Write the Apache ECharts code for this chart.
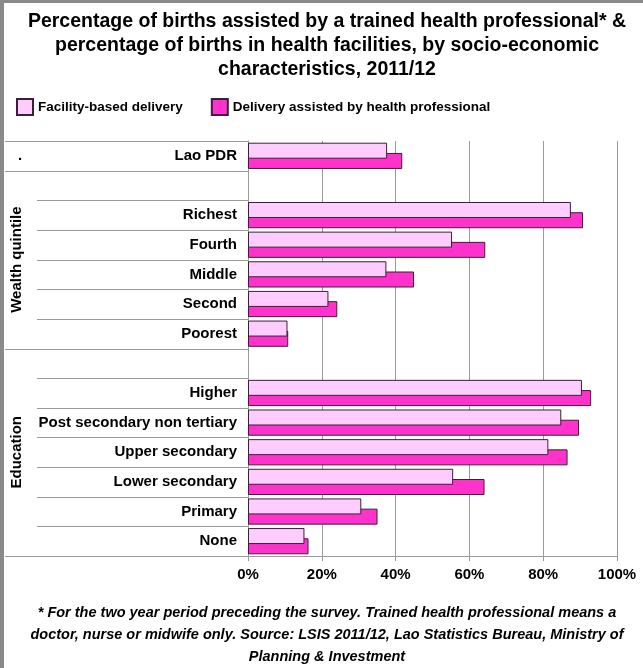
<!DOCTYPE html>
<html>
<head>
<meta charset="utf-8">
<script src="https://cdn.jsdelivr.net/npm/echarts@6/dist/echarts.min.js"></script>
<style>
  html, body { margin: 0; padding: 0; background: #fff; }
  #chart { width: 643px; height: 668px; }
</style>
</head>
<body>
<div id="chart"></div>
<script>
// 类别（空字符串为分组之间的空行）
const categories = ['Lao PDR', ' ', 'Richest', 'Fourth', 'Middle', 'Second', 'Poorest',
  '  ', 'Higher', 'Post secondary non tertiary', 'Upper secondary', 'Lower secondary', 'Primary', 'None']
const facilityData = [37.7, null, 87.5, 55.3, 37.5, 21.8, 10.7,
  null, 90.5, 84.9, 81.4, 55.6, 30.7, 15.3]
const assistedData = [41.8, null, 90.8, 64.3, 45.0, 24.2, 10.9,
  null, 93.0, 89.7, 86.6, 64.1, 35.1, 16.4]
const xTicks = [0, 20, 40, 60, 80, 100]
// 分组：标签、起止行
const groups = [
  { name: '.', from: 0, to: 0, rotate: false },
  { name: 'Wealth quintile', from: 1, to: 6, rotate: true },
  { name: 'Education', from: 7, to: 13, rotate: true }
]

const font = 'Liberation Sans, Arial, sans-serif'
const lineColor = '#9a9a9a'
const myChart = echarts.init(document.getElementById('chart'))

const option = {
  animation: false,
  title: [
    {
      text: 'Percentage of births assisted by a trained health professional* &\npercentage of births in health facilities, by socio-economic\ncharacteristics, 2011/12',
      left: 322,
      top: 5,
      textAlign: 'center',
      textStyle: { fontFamily: font, fontSize: 19.5, fontWeight: 'bold', color: '#000', lineHeight: 24 }
    },
    {
      text: '* For the two year period preceding the survey. Trained health professional means a\ndoctor, nurse or midwife only. Source: LSIS 2011/12, Lao Statistics Bureau, Ministry of\nPlanning & Investment',
      left: 322,
      top: 597,
      textAlign: 'center',
      textStyle: { fontFamily: font, fontSize: 14.5, fontWeight: 'bold', fontStyle: 'italic', color: '#000', lineHeight: 22 }
    }
  ],
  legend: {
    left: 11,
    top: 93,
    icon: 'rect',
    itemWidth: 16,
    itemHeight: 16,
    itemGap: 28,
    textStyle: { fontFamily: font, fontSize: 13.5, fontWeight: 'bold', color: '#000' },
    data: ['Facility-based delivery', 'Delivery assisted by health professional']
  },
  grid: { left: 248, right: 26, top: 141, bottom: 112 },
  xAxis: {
    type: 'value',
    min: xTicks[0],
    max: xTicks[xTicks.length - 1],
    interval: 20,
    axisLine: { show: true, lineStyle: { color: lineColor } },
    axisTick: { show: true, length: 5, lineStyle: { color: lineColor } },
    splitLine: { show: true, lineStyle: { color: lineColor } },
    axisLabel: {
      margin: 11,
      formatter: '{value}%',
      fontFamily: font, fontSize: 15, fontWeight: 'bold', color: '#000'
    }
  },
  yAxis: {
    type: 'category',
    inverse: true,
    data: categories,
    axisLine: { show: true, lineStyle: { color: lineColor } },
    axisTick: { show: false },
    axisLabel: { margin: 11, fontFamily: font, fontSize: 15, fontWeight: 'bold', color: '#000' }
  },
  series: [
    {
      name: 'Facility-based delivery',
      type: 'bar',
      data: facilityData,
      barWidth: 16,
      barGap: '-36%',
      z: 3,
      itemStyle: { color: '#FFCCFF', borderColor: '#3a2035', borderWidth: 1 }
    },
    {
      name: 'Delivery assisted by health professional',
      type: 'bar',
      data: assistedData,
      barWidth: 16,
      z: 2,
      itemStyle: { color: '#FF33CC', borderColor: '#3a2035', borderWidth: 1 }
    }
  ]
}
myChart.setOption(option)

// 左侧表格线和分组标签
const yAt = (i) => myChart.convertToPixel({ yAxisIndex: 0 }, i)
const step = yAt(1) - yAt(0)
const edge = (i) => yAt(i) - step / 2
const axisX = myChart.convertToPixel({ xAxisIndex: 0 }, 0)
const graphics = []
const hline = (y, x1) => graphics.push({
  type: 'line', silent: true,
  shape: { x1: x1, y1: Math.round(y) + 0.5, x2: axisX, y2: Math.round(y) + 0.5 },
  style: { stroke: lineColor, lineWidth: 1 }
})
groups.forEach((g) => {
  hline(edge(g.from), 5)
  for (let i = g.from + 1; i <= g.to; i++) hline(edge(i), 37)
  const cy = (edge(g.from) + edge(g.to + 1)) / 2
  graphics.push({
    type: 'text', silent: true,
    x: g.rotate ? 17 : 20,
    y: cy,
    rotation: g.rotate ? Math.PI / 2 : 0,
    style: {
      text: g.name, fill: '#000',
      font: 'bold 15px ' + font,
      textAlign: 'center', textVerticalAlign: 'middle'
    }
  })
})
hline(edge(categories.length), 5)
// 外框（左、上）
graphics.push({ type: 'rect', silent: true, shape: { x: 0, y: 0, width: 4, height: 668 }, style: { fill: '#8a8a8a' } })
graphics.push({ type: 'rect', silent: true, shape: { x: 0, y: 0, width: 643, height: 3 }, style: { fill: '#8a8a8a' } })
myChart.setOption({ graphic: graphics })
</script>
</body>
</html>
